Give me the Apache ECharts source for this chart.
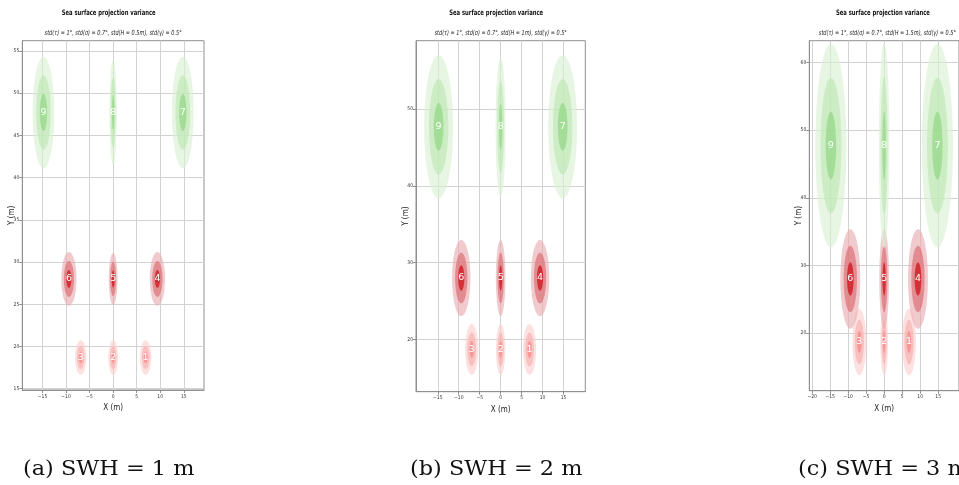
<!DOCTYPE html>
<html><head><meta charset="utf-8">
<script src="https://cdn.jsdelivr.net/npm/echarts@6/dist/echarts.min.js"></script>
<style>html,body{margin:0;padding:0;background:#fff}#c{width:959px;height:485px}</style>
</head><body><div id="c"></div><script>
// ---------------- data ----------------
const targetIds = ['1', '2', '3', '4', '5', '6', '7', '8', '9'];
const targetX = [6.9, 0, -6.9, 9.4, 0, -9.4, 14.8, 0, -14.8];
const targetY = [18.7, 18.7, 18.7, 28.0, 28.0, 28.0, 47.7, 47.7, 47.7];
const targetGroup = [0, 0, 0, 1, 1, 1, 2, 2, 2];

// 1-sigma semi-axes (m) per target, for each SWH case
const sigmaXa = [0.40, 0.34, 0.40, 0.54, 0.31, 0.54, 0.77, 0.26, 0.77];
const sigmaYa = [0.68, 0.68, 0.68, 1.06, 1.02, 1.06, 2.20, 2.08, 2.20];
const sigmaXb = [0.52, 0.37, 0.52, 0.73, 0.38, 0.73, 1.15, 0.40, 1.15];
const sigmaYb = [1.10, 1.10, 1.10, 1.65, 1.65, 1.65, 3.10, 3.00, 3.10];
const sigmaXc = [0.64, 0.36, 0.64, 0.92, 0.45, 0.92, 1.44, 0.49, 1.44];
const sigmaYc = [1.64, 1.64, 1.64, 2.45, 2.45, 2.45, 5.00, 5.06, 5.00];

const titleText = 'Sea surface projection variance';
const subtitles = [
  'std(τ) = 1°, std(σ) = 0.7°, std(H = 0.5m), std(γ) = 0.5°',
  'std(τ) = 1°, std(σ) = 0.7°, std(H = 1m), std(γ) = 0.5°',
  'std(τ) = 1°, std(σ) = 0.7°, std(H = 1.5m), std(γ) = 0.5°'
];
const captions = ['(a) SWH = 1 m', '(b) SWH = 2 m', '(c) SWH = 3 m'];

const xTicksA = [-15, -10, -5, 0, 5, 10, 15];
const yTicksA = [15, 20, 25, 30, 35, 40, 45, 50, 55];
const xTicksB = [-15, -10, -5, 0, 5, 10, 15];
const yTicksB = [20, 30, 40, 50];
const xTicksC = [-20, -15, -10, -5, 0, 5, 10, 15];
const yTicksC = [20, 30, 40, 50, 60];

const xRangeA = [-19.3, 19.3], yRangeA = [14.85, 56.2];
const xRangeB = [-20.2, 20.2], yRangeB = [13.2, 58.9];
const xRangeC = [-20.8, 20.8], yRangeC = [11.5, 63.2];

// ---------------- layout / style ----------------
const panels = [
  {left: 22.3, top: 40.7, width: 181.7, height: 349.3, sx: sigmaXa, sy: sigmaYa, xt: xTicksA, yt: yTicksA, xr: xRangeA, yr: yRangeA, xi: 5, yi: 5},
  {left: 416, top: 40.7, width: 169.3, height: 351, sx: sigmaXb, sy: sigmaYb, xt: xTicksB, yt: yTicksB, xr: xRangeB, yr: yRangeB, xi: 5, yi: 10},
  {left: 809.3, top: 40.7, width: 156.2, height: 350, sx: sigmaXc, sy: sigmaYc, xt: xTicksC, yt: yTicksC, xr: xRangeC, yr: yRangeC, xi: 5, yi: 10}
];
const captionX = [23, 410, 798];

// target composite colours over white: [outer(3σ), middle(2σ), inner(1σ)]
const groupColors = [
  [[253, 224, 224], [250, 192, 192], [247, 152, 152]],
  [[240, 202, 205], [226, 138, 143], [212, 48, 56]],
  [[231, 245, 227], [204, 235, 196], [163, 221, 152]]
];
const A = 0.65;
const layerColors = groupColors.map(levels => {
  let prev = [255, 255, 255];
  return levels.map(t => {
    const c = t.map((v, i) => Math.max(0, Math.min(255, Math.round((v - prev[i] * (1 - A)) / A))));
    prev = t;
    return 'rgba(' + c.join(',') + ',' + A + ')';
  });
});

const narrow = "'DejaVu Sans Condensed', 'DejaVu Sans', sans-serif";
const minus = v => String(v).replace('-', '\u2212');

const chart = echarts.init(document.getElementById('c'), null, {renderer: 'canvas'});

const grids = [], xAxes = [], yAxes = [], series = [], graphics = [];
panels.forEach((p, i) => {
  grids.push({left: p.left, top: p.top, width: p.width, height: p.height, show: true,
    borderColor: '#8f8f8f', borderWidth: 1, backgroundColor: 'transparent', containLabel: false});
  xAxes.push({type: 'value', gridIndex: i, min: p.xr[0], max: p.xr[1], interval: p.xi,
    name: 'X (m)', nameLocation: 'middle', nameGap: 13,
    nameTextStyle: {fontSize: 8, fontFamily: narrow, color: '#222'},
    axisLine: {show: true, onZero: false, lineStyle: {color: '#8f8f8f', width: 1}},
    axisTick: {show: true, length: 3, lineStyle: {color: '#8f8f8f'}, customValues: p.xt},
    axisLabel: {fontSize: 5, color: '#333', margin: 4, fontFamily: narrow, customValues: p.xt, formatter: minus},
    splitLine: {show: true, lineStyle: {color: '#d2d2d2', width: 1}}
  });
  yAxes.push({type: 'value', gridIndex: i, min: p.yr[0], max: p.yr[1], interval: p.yi,
    name: 'Y (m)', nameLocation: 'middle', nameGap: 6, nameMoveOverlap: false,
    nameTextStyle: {fontSize: 8, fontFamily: narrow, color: '#222'},
    axisLine: {show: true, onZero: false, lineStyle: {color: '#8f8f8f', width: 1}},
    axisTick: {show: true, length: 3, lineStyle: {color: '#8f8f8f'}, customValues: p.yt},
    axisLabel: {fontSize: 5, color: '#333', margin: 3, fontFamily: narrow, customValues: p.yt, formatter: minus},
    splitLine: {show: true, lineStyle: {color: '#d2d2d2', width: 1}}
  });
  const data = targetIds.map((id, k) => [targetX[k], targetY[k], p.sx[k], p.sy[k], targetGroup[k]]);
  series.push({
    type: 'custom', xAxisIndex: i, yAxisIndex: i, data: data, clip: true,
    encode: {x: 0, y: 1},
    renderItem: function (params, api) {
      const cx = api.value(0), cy = api.value(1), sx = api.value(2), sy = api.value(3), g = api.value(4);
      const children = [];
      for (let n = 3; n >= 1; n--) {
        const pts = [];
        for (let k = 0; k < 96; k++) {
          const t = 2 * Math.PI * k / 96;
          pts.push(api.coord([cx + n * sx * Math.cos(t), cy + n * sy * Math.sin(t)]));
        }
        children.push({type: 'polygon', shape: {points: pts}, style: {fill: layerColors[g][3 - n]}});
      }
      const c = api.coord([cx, cy]);
      children.push({type: 'text', style: {text: targetIds[params.dataIndex], x: c[0], y: c[1],
        fill: '#fff', align: 'center', verticalAlign: 'middle',
        font: "9.5px 'DejaVu Sans', sans-serif"}});
      return {type: 'group', children: children};
    }
  });
  const cxp = p.left + p.width / 2;
  graphics.push({type: 'text', x: cxp - 4.5, y: 13, scaleX: 0.78, style: {text: titleText, align: 'center', verticalAlign: 'middle',
    font: 'bold 7.5px ' + narrow, fill: '#111'}});
  graphics.push({type: 'text', x: cxp, y: 33, scaleX: 0.79, style: {text: subtitles[i], align: 'center', verticalAlign: 'middle',
    font: 'italic 7px ' + narrow, fill: '#222'}});
  graphics.push({type: 'text', x: captionX[i], y: 470, scaleX: 1.12, style: {text: captions[i], align: 'left', verticalAlign: 'middle',
    font: "20px 'DejaVu Serif', serif", fill: '#111'}});
});

chart.setOption({
  animation: false,
  backgroundColor: '#fff',
  grid: grids, xAxis: xAxes, yAxis: yAxes, series: series,
  graphic: graphics
});
</script></body></html>
